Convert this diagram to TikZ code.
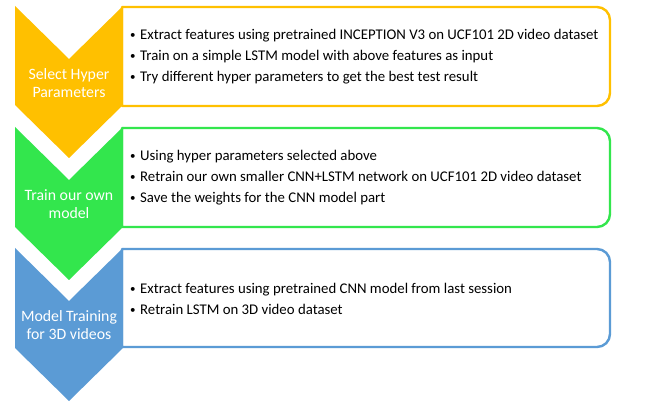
\documentclass[tikz,border=0pt]{standalone}
\usepackage{fontspec}
\setmainfont{Carlito}

\definecolor{hypgold}{RGB}{255,192,0}
\definecolor{owngreen}{RGB}{51,230,77}
\definecolor{vidblue}{RGB}{91,155,213}
\newcommand{\itm}{\makebox[10pt][l]{\raisebox{1pt}{\fontsize{11}{11}\selectfont\textbullet}}}

\begin{document}
\begin{tikzpicture}[x=1pt, y=1pt,
        frame/.style={line width=2.4pt, line join=round},
        lbl/.style={text=white, font=\fontsize{15.8}{18.5}\selectfont, align=center, inner sep=0pt},
        items/.style={anchor=west, align=left, font=\fontsize{14.8}{21}\selectfont, inner sep=0pt}]

        \useasboundingbox[fill=white] (0,0) rectangle (664,-403);

        % text frames, rounded on the right only
        \draw[frame, draw=hypgold]  (122,-7)   -- (597,-7)   arc[start angle=90, end angle=0, radius=13] -- (610,-93)  arc[start angle=0, end angle=-90, radius=13] -- (122,-106) -- cycle;
        \draw[frame, draw=owngreen] (122,-128) -- (597,-128) arc[start angle=90, end angle=0, radius=13] -- (610,-214) arc[start angle=0, end angle=-90, radius=13] -- (122,-227) -- cycle;
        \draw[frame, draw=vidblue]  (122,-249) -- (597,-249) arc[start angle=90, end angle=0, radius=13] -- (610,-334) arc[start angle=0, end angle=-90, radius=13] -- (122,-347) -- cycle;

        % chevrons
        \fill[hypgold]  (15,-6)   -- (69,-59)  -- (123,-6)   -- (123,-105) -- (69,-158) -- (15,-105) -- cycle;
        \fill[owngreen] (15,-127) -- (69,-180) -- (123,-127) -- (123,-227) -- (69,-280) -- (15,-227) -- cycle;
        \fill[vidblue]  (15,-248) -- (69,-301) -- (123,-248) -- (123,-348) -- (69,-401) -- (15,-348) -- cycle;

        \node[lbl] (hyper) at (69,-83)  {Select Hyper\\Parameters};
        \node[lbl] (train) at (69,-204) {Train our own\\model};
        \node[lbl] (model) at (69,-325) {Model Training\\for 3D videos};

        \node[items] (hyperlist) at (130,-56.5) {\itm Extract features using pretrained INCEPTION V3 on UCF101 2D video dataset\\
            \itm Train on a simple LSTM model with above features as input\\
            \itm Try different hyper parameters to get the best test result};
        \node[items] (trainlist) at (130,-177.5) {\itm Using hyper parameters selected above\\
            \itm Retrain our own smaller CNN+LSTM network on UCF101 2D video dataset\\
            \itm Save the weights for the CNN model part};
        \node[items] (modellist) at (130,-298.5) {\itm Extract features using pretrained CNN model from last session\\
            \itm Retrain LSTM on 3D video dataset};

    \end{tikzpicture}
\end{document}
